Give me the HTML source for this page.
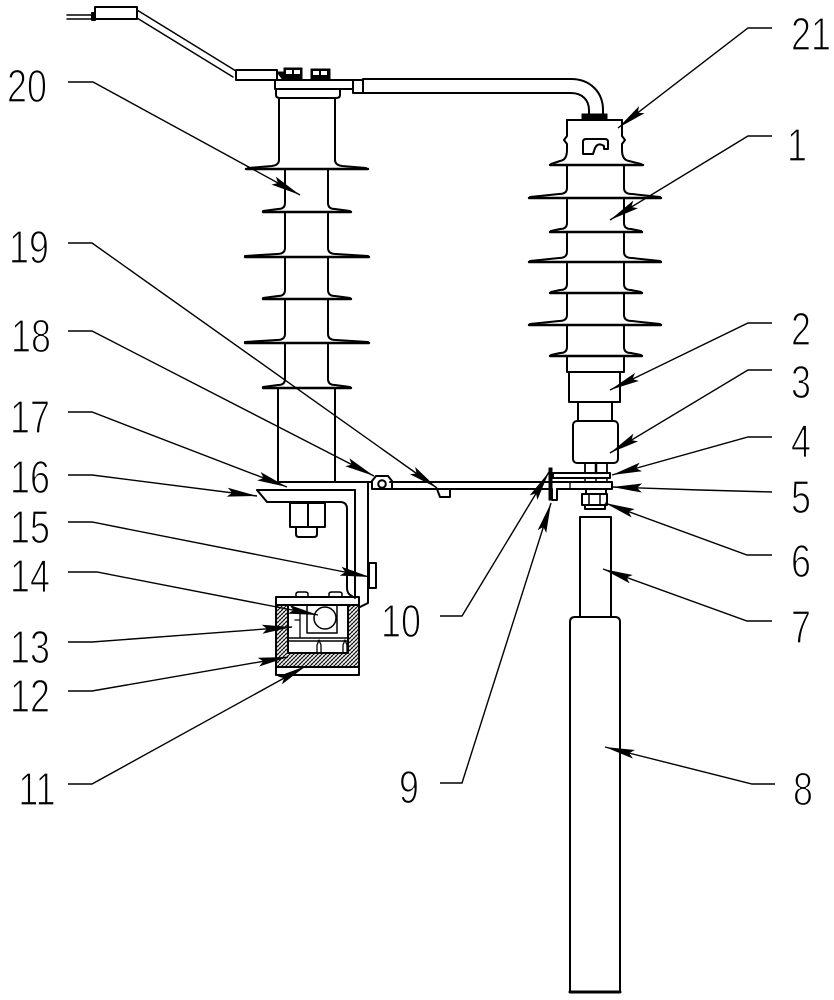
<!DOCTYPE html>
<html><head><meta charset="utf-8"><style>html,body{margin:0;padding:0;background:#fff}svg{display:block}</style></head>
<body>
<svg width="834" height="1000" viewBox="0 0 834 1000" xmlns="http://www.w3.org/2000/svg">
<defs>
<marker id="ar" viewBox="0 0 30 10" refX="30" refY="5" markerWidth="30" markerHeight="10" orient="auto" markerUnits="userSpaceOnUse">
<path d="M0,0.5 L30,5 L0,9.5 L5,5 Z" fill="#000"/>
</marker>
<pattern id="hat" width="4" height="4" patternUnits="userSpaceOnUse">
<rect width="4" height="4" fill="#fff"/>
<path d="M0,4 L4,0 M-1,1 L1,-1 M3,5 L5,3" stroke="#000" stroke-width="1"/>
<path d="M0,0 L4,4" stroke="#555" stroke-width="0.6"/>
</pattern>
</defs>
<rect width="834" height="1000" fill="#fff"/>

<g fill="none" stroke="#000" stroke-width="2" stroke-linejoin="round" stroke-linecap="round">
<!-- top-left wire -->
<path d="M67,15 H92 M67,19 H92" stroke-width="1.5"/>
<path d="M92,13 L95,13 L95,20 L92,20 Z" fill="#000"/>
<rect x="95" y="7" width="42" height="12"/>
<path d="M137,10 L236,71 M137,18 L233,77" stroke-width="1.5"/>
<rect x="236" y="70" width="41" height="10"/>
<!-- bolts -->
<rect x="284" y="68" width="18" height="12" fill="#000" stroke-width="1"/>
<rect x="286" y="70" width="6" height="4" fill="#fff" stroke="none"/>
<rect x="294" y="70" width="6" height="4" fill="#fff" stroke="none"/>
<rect x="311" y="69" width="19" height="11" fill="#000" stroke-width="1"/>
<rect x="313" y="71" width="6" height="4" fill="#fff" stroke="none"/>
<rect x="321" y="71" width="6" height="4" fill="#fff" stroke="none"/>
<path d="M277,72 L283,80 L283,72 Z" fill="#000" stroke-width="1"/>
<!-- top plate -->
<rect x="275" y="80" width="78" height="9"/>
<path d="M276,89 V95 Q276,98 280,98 H336 Q340,98 340,95 V89"/>
<rect x="353" y="80" width="10" height="13"/>
<!-- pipe -->
<path d="M363,79 H571 C590,79 603,92 603,110 V115"/>
<path d="M363,93 H571 C582,93 589,100 589,110 V115"/>
<rect x="582" y="114" width="25" height="6" fill="#000" stroke-width="1"/>

<!-- left insulator -->
<path d="M279,98 V160 Q279,165 272,166 L248,168 M335,98 V160 Q335,165 342,166 L366,168"/>
<path d="M246,169 H368" stroke-width="2.4"/>
<path d="M285,170 V203 Q285,209 278,209 L263,211 M328,170 V203 Q328,209 335,209 L350,211"/>
<path d="M263,212 H351" stroke-width="2.4"/>
<path d="M285,213 V248 Q285,254 277,254 L245,256 M328,213 V248 Q328,254 336,254 L368,256"/>
<path d="M245,257 H369" stroke-width="2.4"/>
<path d="M285,258 V290 Q285,296 278,296 L263,298 M328,258 V290 Q328,296 335,296 L350,298"/>
<path d="M263,299 H351" stroke-width="2.4"/>
<path d="M285,300 V334 Q285,340 277,340 L245,342 M328,300 V334 Q328,340 336,340 L368,342"/>
<path d="M245,343 H369" stroke-width="2.4"/>
<path d="M285,344 V379 Q285,385 278,385 L263,387 M328,344 V379 Q328,385 335,385 L350,387"/>
<path d="M263,388 H351" stroke-width="2.4"/>
<path d="M278,389 V482 M335,389 V482"/>

<!-- right insulator -->
<path d="M567,120 H622"/>
<path d="M567,120 V136 L564,140 L567,144 V150 Q567,160 560,161 L551,164 M622,120 V136 L625,140 L622,144 V150 Q622,160 629,161 L641,164"/>
<path d="M583,154 V142 Q583,139 586,139 H605 Q608,139 608,142 V149 H604 V146 Q598,142 595,148 L593,154 Z"/>
<path d="M550,165 H643" stroke-width="2.4"/>
<path d="M567,166 V188 Q567,194 559,194 L530,197 M624,166 V188 Q624,194 632,194 L660,197"/>
<path d="M529,198 H661" stroke-width="2.4"/>
<path d="M567,199 V223 Q567,229 560,229 L551,231 M624,199 V223 Q624,229 631,229 L641,231"/>
<path d="M550,232 H642" stroke-width="2.4"/>
<path d="M567,233 V252 Q567,258 559,258 L530,261 M624,233 V252 Q624,258 632,258 L660,261"/>
<path d="M529,262 H661" stroke-width="2.4"/>
<path d="M567,263 V284 Q567,290 560,290 L551,292 M624,263 V284 Q624,290 631,290 L641,292"/>
<path d="M550,293 H642" stroke-width="2.4"/>
<path d="M567,294 V315 Q567,321 559,321 L530,324 M624,294 V315 Q624,321 632,321 L660,324"/>
<path d="M529,325 H661" stroke-width="2.4"/>
<path d="M567,326 V347 Q567,353 560,353 L551,355 M624,326 V347 Q624,353 631,353 L641,355"/>
<path d="M550,356 H642" stroke-width="2.4"/>
<path d="M567,357 V372 H624 V357"/>
<path d="M569,372 V402 H620 V372"/>
<path d="M578,402 V421 M612,402 V421"/>
<rect x="573" y="421" width="45" height="42" rx="4"/>
<rect x="585" y="463" width="22" height="10" stroke-width="1.8"/>
<path d="M596,463 V473" stroke-width="2.5"/>
<rect x="553" y="473" width="57" height="5"/>
<rect x="585" y="478" width="22" height="4" stroke-width="1.5"/>
<path d="M596,478 V482" stroke-width="1.5"/>

<!-- arm / bar -->
<path d="M278,482 H372"/>
<path d="M390,482 H612 V489 H557 M548,489 H390"/>
<path d="M570,482 V489" stroke-width="1.3"/>
<path d="M437,489 L440,497 H450 V489"/>
<path d="M372,489 V481 L376,476 H388 L392,481 V489 Z"/>
<circle cx="382" cy="484" r="3.8"/>
<rect x="549" y="468" width="3" height="32" fill="#000" stroke-width="1"/>
<path d="M552,489 V500 H557 V489"/>
<path d="M586,489 V494 M606,489 V494"/>
<rect x="582" y="494" width="25" height="11"/>
<path d="M589,494 V505 M600,494 V505" stroke-width="1.5"/>
<rect x="585" y="505" width="20" height="4"/>
<rect x="580" y="517" width="31" height="100"/>
<path d="M570,992 V622 Q570,617 575,617 H615 Q620,617 620,622 V992 Z"/>
<path d="M570,992 H620" stroke-width="3"/>

<!-- bracket 16/17 -->
<path d="M257,490 H355"/>
<path d="M257,490 L267,502 H340 Q347,502 347,509 V588 Q347,594 352,596"/>
<path d="M355,490 V598"/>
<path d="M368,482 V603 L360,607"/>
<rect x="290" y="503" width="35" height="24"/>
<path d="M308,503 V527"/>
<path d="M296,527 V534 Q296,537 299,537 H314 Q317,537 317,534 V527"/>
<rect x="369" y="563" width="7" height="25"/>

<!-- box -->
<path d="M296,597 V594 Q296,592 299,592 H305 Q308,592 308,594 V597 M329,597 V594 Q329,592 332,592 H339 Q342,592 342,594 V597" stroke-width="1.5"/>
<rect x="277" y="605" width="11" height="48" fill="url(#hat)" stroke="none"/>
<rect x="348" y="605" width="11" height="48" fill="url(#hat)" stroke="none"/>
<rect x="277" y="653" width="82" height="14" fill="url(#hat)" stroke="none"/>
<rect x="276" y="597" width="83" height="78"/>
<path d="M276,605 H359 M276,667 H359 M288,605 V653 M348,605 V653 M288,653 H348"/>
<path d="M307,605 V633 H337 V605" stroke-width="1.5"/>
<circle cx="325" cy="618" r="11" stroke-width="1.5"/>
<path d="M288,638 H348 M288,641 H348" stroke-width="1.6"/>
<path d="M300,612 V638 M295,620 H300" stroke-width="1.3"/>
<path d="M317,653 V645 L319,640 L321,645 V653 M343,653 V645 L345,640 L347,645 V653" stroke-width="1.3"/>
</g>

<!-- leaders -->
<g fill="none" stroke="#000" stroke-width="1.4" marker-end="url(#ar)">
<polyline points="68,82 93,82 300,195"/>
<polyline points="68,243 92,243 437,488"/>
<polyline points="68,331 92,331 374,476"/>
<polyline points="68,412 92,412 287,487"/>
<polyline points="68,475 92,475 257,496"/>
<polyline points="68,522 92,522 370,577"/>
<polyline points="68,572 97,572 318,615"/>
<polyline points="68,642 92,642 292,627"/>
<polyline points="68,691 92,691 288,657"/>
<polyline points="68,784 92,784 306,666"/>
<polyline points="440,616 462,616 549,472"/>
<polyline points="440,783 462,783 551,503"/>
<polyline points="772,28 748,28 618,128"/>
<polyline points="772,136 748,136 610,220"/>
<polyline points="772,323 748,323 610,390"/>
<polyline points="772,370 748,370 610,453"/>
<polyline points="772,437 748,437 612,475"/>
<polyline points="772,492 700,490 612,487"/>
<polyline points="772,555 747,555 605,503"/>
<polyline points="772,621 747,621 603,569"/>
<polyline points="775,784 752,784 605,747"/>
</g>

<!-- labels -->
<g font-family="'Liberation Sans', 'DejaVu Sans', sans-serif" font-size="46" fill="#000" stroke="#fff" stroke-width="1.3" text-anchor="middle">
<text transform="translate(27,102) scale(0.78,1)">20</text>
<text transform="translate(29,263) scale(0.78,1)">19</text>
<text transform="translate(31,352) scale(0.78,1)">18</text>
<text transform="translate(30,433) scale(0.78,1)">17</text>
<text transform="translate(30,493) scale(0.78,1)">16</text>
<text transform="translate(30,543) scale(0.78,1)">15</text>
<text transform="translate(30,592) scale(0.78,1)">14</text>
<text transform="translate(30,663) scale(0.78,1)">13</text>
<text transform="translate(30,712) scale(0.78,1)">12</text>
<text transform="translate(37,805) scale(0.78,1)">11</text>
<text transform="translate(401,637) scale(0.78,1)">10</text>
<text transform="translate(409,803) scale(0.78,1)">9</text>
<text transform="translate(811,50) scale(0.78,1)">21</text>
<text transform="translate(797,161) scale(0.78,1)">1</text>
<text transform="translate(801,345) scale(0.78,1)">2</text>
<text transform="translate(801,398) scale(0.78,1)">3</text>
<text transform="translate(801,457) scale(0.78,1)">4</text>
<text transform="translate(801,513) scale(0.78,1)">5</text>
<text transform="translate(801,577) scale(0.78,1)">6</text>
<text transform="translate(801,643) scale(0.78,1)">7</text>
<text transform="translate(803,805) scale(0.78,1)">8</text>
</g>
</svg>
</body></html>
